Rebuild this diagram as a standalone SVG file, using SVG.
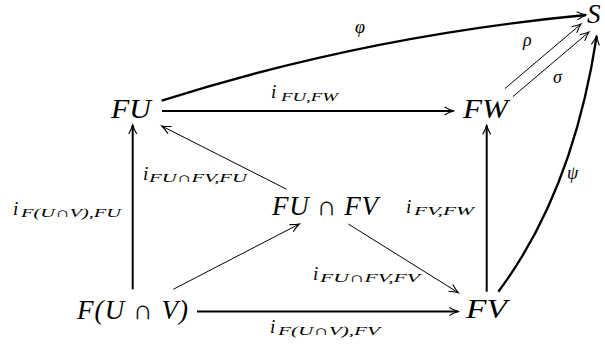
<svg xmlns="http://www.w3.org/2000/svg" width="605" height="348" viewBox="0 0 605 348">
<style>
.node{font-family:"Liberation Serif","DejaVu Serif",serif;font-style:italic;font-size:27px;fill:#000}
.lbl{font-family:"Liberation Serif","DejaVu Serif",serif;font-style:italic;font-size:19px;fill:#000}
.gr{font-family:"Liberation Serif","DejaVu Serif",serif;font-style:italic;font-size:18px;fill:#000}
.sub{font-family:"Liberation Serif","DejaVu Serif",serif;font-style:italic;font-size:13.5px;fill:#000}
.op{font-style:normal}
.thick{stroke:#000;stroke-width:2;fill:none}
.curve{stroke:#000;stroke-width:2.3;fill:none}
.thin{stroke:#000;stroke-width:1;fill:none}
</style>
<defs>
<marker id="ah" markerUnits="userSpaceOnUse" markerWidth="14" markerHeight="12" viewBox="-11 -6 14 12" refX="0" refY="0" orient="auto" overflow="visible">
<path d="M-9,-4 Q-4,-1.2 0,0 Q-4,1.2 -9,4" fill="none" stroke="#000" stroke-width="1.1"/>
</marker>
</defs>
<rect width="605" height="348" fill="#fff"/>
<g id="connectors">
<path class="curve" d="M161.7,100.7 Q364,36 586,15" marker-end="url(#ah)"/>
<path class="thick" d="M162,111 L453.5,111" marker-end="url(#ah)"/>
<path class="thin" d="M505,88.5 L581,24" marker-end="url(#ah)"/>
<path class="thin" d="M513,96.5 L589,32" marker-end="url(#ah)"/>
<path class="curve" d="M498.3,291.7 Q573,192 596.7,36" marker-end="url(#ah)"/>
<path class="thick" d="M132.7,289.3 L132.7,125" marker-end="url(#ah)"/>
<path class="thick" d="M486.7,291.7 L486.7,125.5" marker-end="url(#ah)"/>
<path class="thin" d="M286.7,189.3 L161.7,126" marker-end="url(#ah)"/>
<path class="thin" d="M173.3,289.3 L299.3,224" marker-end="url(#ah)"/>
<path class="thin" d="M348.3,224 L458.3,292.7" marker-end="url(#ah)"/>
<path class="thick" d="M197,311.5 L458.3,311.5" marker-end="url(#ah)"/>
</g>
<g id="labels">
<text class="gr" x="355" y="33">φ</text>
<text class="gr" x="523" y="46">ρ</text>
<text class="gr" x="553" y="83">σ</text>
<text class="gr" x="567" y="179">ψ</text>
<g id="lbl-fu-fw"><text class="lbl" x="271" y="98">i</text><text class="sub" x="281" y="100.5" textLength="57" lengthAdjust="spacingAndGlyphs">FU,FW</text></g>
<g id="lbl-fufv-fu"><text class="lbl" x="143" y="180">i</text><text class="sub" x="149" y="182" textLength="98" lengthAdjust="spacingAndGlyphs">FU<tspan class="op">∩</tspan>FV,FU</text></g>
<g id="lbl-fuv-fu"><text class="lbl" x="13" y="215">i</text><text class="sub" x="21" y="217" textLength="100" lengthAdjust="spacingAndGlyphs">F(U<tspan class="op">∩</tspan>V),FU</text></g>
<g id="lbl-fv-fw"><text class="lbl" x="406" y="213">i</text><text class="sub" x="414" y="215" textLength="60" lengthAdjust="spacingAndGlyphs">FV,FW</text></g>
<g id="lbl-fufv-fv"><text class="lbl" x="313" y="280">i</text><text class="sub" x="320" y="282" textLength="100" lengthAdjust="spacingAndGlyphs">FU<tspan class="op">∩</tspan>FV,FV</text></g>
<g id="lbl-fuv-fv"><text class="lbl" x="270" y="333">i</text><text class="sub" x="278" y="335" textLength="102" lengthAdjust="spacingAndGlyphs">F(U<tspan class="op">∩</tspan>V),FV</text></g>
</g>
<g id="node-S"><text class="node" x="587" y="23">S</text></g>
<g id="node-FU"><text class="node" x="111" y="118" textLength="40" lengthAdjust="spacingAndGlyphs">FU</text></g>
<g id="node-FW"><text class="node" x="463" y="118" textLength="45" lengthAdjust="spacingAndGlyphs">FW</text></g>
<g id="node-FUcapFV"><text class="node" x="272" y="215" textLength="106" lengthAdjust="spacing">FU <tspan class="op">∩</tspan> FV</text></g>
<g id="node-FUcapV"><text class="node" x="77" y="319" textLength="111" lengthAdjust="spacing">F(U <tspan class="op">∩</tspan> V)</text></g>
<g id="node-FV"><text class="node" x="466" y="318" textLength="41" lengthAdjust="spacingAndGlyphs">FV</text></g>
</svg>
